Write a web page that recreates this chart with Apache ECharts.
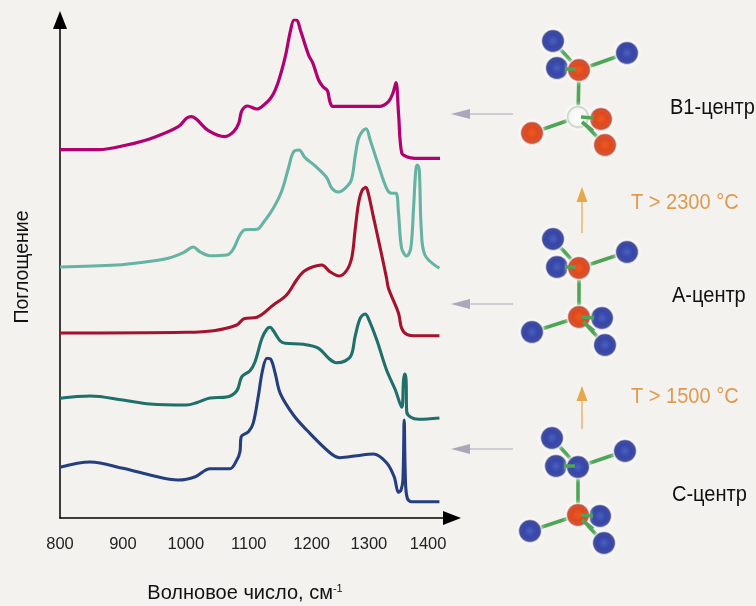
<!DOCTYPE html>
<html><head><meta charset="utf-8">
<script src="https://cdn.jsdelivr.net/npm/echarts@6/dist/echarts.min.js"></script>
<style>html,body{margin:0;padding:0;background:#f3f2ee}#c{width:756px;height:606px}</style>
</head><body><div id="c"></div>
<script>
const tickPositions = [800,900,1000,1100,1200,1291,1385];
const tickLabels = ['800','900','1000','1100','1200','1300','1400'];
const xName = 'Волновое число, см';
const yName = 'Поглощение';
const centerLabels = ['В1-центр','А-центр','С-центр'];
const tempLabels = ['T > 2300 °C','T > 1500 °C'];

const b1Spectrum = [[800,368.3],[861,368.3],[906,373],[948,380.3],[988,391.3],[1001,399.7],[1009,401.3],[1017,398.7],[1036,387.3],[1062,381.3],[1076,386.3],[1084,394.7],[1089,407.3],[1098,412],[1113,409],[1124,413],[1136.5,421.3],[1147,436.3],[1158,461.3],[1166,486.3],[1172,498],[1176,498],[1182,488],[1195,463],[1202,454.7],[1211,438],[1218,431.3],[1225,427.3],[1229,416.3],[1233.5,411.7],[1309,411.7],[1322,416.3],[1329,424.7],[1334,435.3],[1338,404.7],[1343,365.3],[1351,361.3],[1364,359.7],[1404,359.7]];
const b1PlusASpectrum = [[800,251],[890,253],[938,256.3],[972,259.7],[996,265.3],[1012,271],[1022,266.3],[1038.5,262.3],[1065,263],[1074.5,268],[1086,283],[1094,288.3],[1113,288.7],[1123,295.3],[1139,309.7],[1152,326.3],[1163,349.7],[1171,366],[1180,368],[1189,360.7],[1205,352.3],[1224,340.3],[1232,329.7],[1242.5,326],[1253,329.7],[1263,338],[1269,361.3],[1274.5,379.7],[1281,387],[1286.5,389.3],[1293,378],[1306,353],[1319,329.7],[1327,324.7],[1334,324.7],[1338,304.7],[1343,269.7],[1351,262],[1357.5,269.7],[1362,311.3],[1365.5,348],[1368,353],[1371,348],[1374,291.3],[1380,263],[1403,249.7]];
const aSpectrum = [[800,185],[1001,185.7],[1044,187.3],[1081,193],[1092.5,199.3],[1113,200.7],[1139,213],[1160,223],[1176,238],[1187,246.3],[1198,250.3],[1216,253],[1229,246.3],[1243.5,242],[1256,248],[1264,261.3],[1269,288],[1274.5,314.7],[1280,327.3],[1286,330.7],[1290,324.7],[1298,301.3],[1309,269.7],[1319,239.7],[1322,229.7],[1338,204.7],[1343,189.7],[1351,183.7],[1367,182.3],[1403,182.3]];
const cPlusASpectrum = [[800,119.7],[848,122],[900,118],[943,114],[1001,113],[1017,115.3],[1038.5,120],[1065,121],[1081,127.3],[1089,141.3],[1102,147.3],[1110,156.3],[1121,179.7],[1129,189],[1134,190.7],[1139,187.3],[1150,177],[1158,174.7],[1187,173.7],[1211,169.7],[1227,159.7],[1239,155.3],[1253,157],[1263,163],[1269,181.3],[1277,199.7],[1285,204],[1290,199.7],[1303.5,178],[1319,148],[1333,128],[1343,110.7],[1346,138],[1348,144],[1350,138],[1351,106.3],[1357.5,100.7],[1370,98.7],[1403,100]];
const cSpectrum = [[800,50.7],[848,56],[900,49.7],[943,43],[988,38],[1015,41.3],[1038.5,49.3],[1070,49.3],[1081,58],[1086,66.3],[1088,81.3],[1099.5,86.3],[1107,94.7],[1115,121.3],[1122,148],[1129,159.7],[1135,158.7],[1142,144.7],[1150,124.7],[1171,103],[1192,88],[1229,65.3],[1245,60.3],[1272,62.3],[1298,64],[1319,55.3],[1331,41.3],[1338,25.7],[1342,28],[1345,38],[1347,98],[1349,38],[1352,19.7],[1359,16.3],[1403,16.3]];

const FONT = '"Liberation Sans",sans-serif';
const line = (data, color, w) => ({type:'line', data, showSymbol:false, smooth:0.35,
  lineStyle:{color, width:w, cap:'butt', join:'round'}, silent:true, animation:false});

const BOND = '#4fa458';
const ballFill = (kind) => {
  const stops = {
    blue:['#4a60c0','#2e3c9e','#1a2272'],
    red:['#ee5a20','#d8421c','#a02b1e'],
    white:['#ffffff','#f4f6f2','#8a9a90']
  }[kind];
  return {type:'radial',x:0.5,y:0.5,r:0.5,colorStops:[{offset:0,color:stops[0]},{offset:0.7,color:stops[1]},{offset:1,color:stops[2]}]};
};
const ball = (x,y,kind,r=11.5) => ({type:'circle',shape:{cx:x,cy:y,r},style:{fill:ballFill(kind),stroke:'rgba(255,255,255,0.6)',lineWidth:1.5,shadowBlur:4,shadowColor:'rgba(255,255,255,0.9)'},silent:true});
const bond = (a,b) => ({type:'line',shape:{x1:a[0],y1:a[1],x2:b[0],y2:b[1]},style:{stroke:BOND,lineWidth:3.6},silent:true});
function molecule(top, bottom, outer, kinds){
  const g = [];
  g.push(bond(top,bottom));
  outer.slice(0,3).forEach(p=>g.push(bond(top,p)));
  outer.slice(3).forEach(p=>g.push(bond(bottom,p)));
  outer.forEach((p,i)=>g.push(ball(p[0],p[1],kinds[i])));
  g.push(ball(top[0],top[1],top[2]));
  g.push(ball(bottom[0],bottom[1],bottom[2]));
  g.push(bond([top[0]-3,top[1]-1],[top[0]-14,top[1]-1]));
  g.push(bond([bottom[0]+3,bottom[1]],[bottom[0]+15,bottom[1]+1]));
  g.push(bond([bottom[0]+4,bottom[1]+5],[bottom[0]+15,bottom[1]+14]));
  return g;
}
const arrowH = (y) => [
  {type:'line',shape:{x1:462,y1:y,x2:513,y2:y},style:{stroke:'#a9a7ba',lineWidth:1},silent:true},
  {type:'polygon',shape:{points:[[451,y],[470,y-5],[470,y+5]]},style:{fill:'#a9a7ba'},silent:true}
];
const arrowV = (tip,end) => [
  {type:'line',shape:{x1:582,y1:tip+10,x2:582,y2:end},style:{stroke:'#e6a84a',lineWidth:1.2},silent:true},
  {type:'polygon',shape:{points:[[582,tip],[576.5,tip+15],[587.5,tip+15]]},style:{fill:'#e6a84a'},silent:true}
];
const txt = (x,y,text,fill) => ({type:'text',x,y,scaleX:0.91,style:{text,fill,font:'22px '+FONT,textAlign:'left',textVerticalAlign:'middle'},silent:true});

const graphics = [
  ...arrowH(114),...arrowH(304),...arrowH(449),
  ...arrowV(187,233),...arrowV(386,429),
  ...molecule([579,70,'red'],[578,117,'white'],[[553,41],[557,68],[627,53],[601,119],[532,133],[605,145]],['blue','blue','blue','red','red','red']),
  ...molecule([579,268,'red'],[579,317,'red'],[[553,239],[557,267],[627,252],[602,318],[532,332],[605,345]],['blue','blue','blue','blue','blue','blue']),
  ...molecule([578,467,'blue'],[578,515,'red'],[[552,438],[556,466],[625,451],[600,516],[530,531],[604,543]],['blue','blue','blue','blue','blue','blue']),
  txt(670,108,centerLabels[0],'#111'),
  txt(672,296,centerLabels[1],'#111'),
  txt(672,495,centerLabels[2],'#111'),
  txt(631,203,tempLabels[0],'#e09a50'),
  txt(631,397,tempLabels[1],'#e09a50')
];

const chart = echarts.init(document.getElementById('c'));
chart.setOption({
  animation:false,
  backgroundColor:'#f3f2ee',
  grid:{left:60,right:304,top:20,bottom:88,outerBoundsMode:'none'},
  xAxis:{type:'value',min:800,max:1423,
    axisLine:{show:true,onZero:false,lineStyle:{color:'#000',width:1.5},symbol:['none','triangle'],symbolSize:[14,18],symbolOffset:[0,0]},
    axisTick:{show:false},splitLine:{show:false},
    axisLabel:{customValues:tickPositions,formatter:(v)=>tickLabels[tickPositions.indexOf(v)]||'',color:'#222',fontFamily:FONT,fontSize:16.5,margin:18,showMaxLabel:true,showMinLabel:true},
    name:'{t|'+xName+'}{s|-1}',nameLocation:'middle',nameGap:65,
    nameTextStyle:{padding:[0,22,0,0],rich:{t:{fontFamily:FONT,fontSize:20,color:'#111'},s:{fontFamily:FONT,fontSize:11,color:'#111',verticalAlign:'top',padding:[0,0,6,0]}}}
  },
  yAxis:{type:'value',min:0,max:498,
    axisLine:{show:true,onZero:false,lineStyle:{color:'#000',width:1.5},symbol:['none','triangle'],symbolSize:[14,18],symbolOffset:[0,0]},
    axisTick:{show:false},splitLine:{show:false},axisLabel:{show:false},
    name:yName,nameLocation:'middle',nameGap:27,nameTextStyle:{fontFamily:FONT,fontSize:19.5,color:'#111',padding:[0,0,0,4]}
  },
  series:[
    line(b1Spectrum,'#b1006f',3.2),
    line(b1PlusASpectrum,'#66b3a4',3.1),
    line(aSpectrum,'#a5122e',3.1),
    line(cPlusASpectrum,'#1f6f6a',3.1),
    line(cSpectrum,'#253f7e',3.1)
  ],
  graphic:graphics
});
</script></body></html>
